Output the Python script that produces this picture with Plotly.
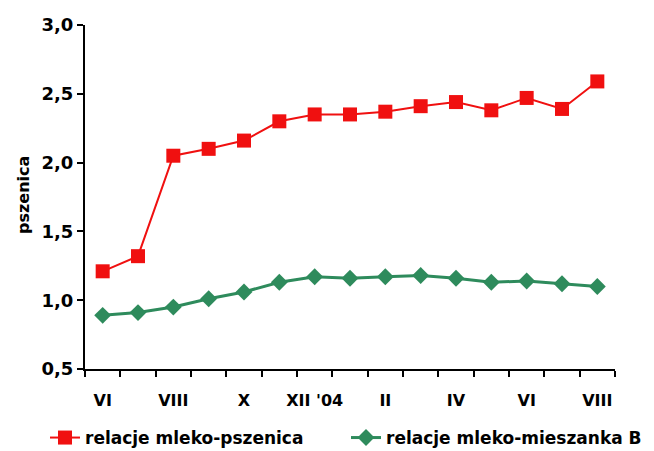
import plotly.graph_objects as go

months = ["VI", "VII", "VIII", "IX", "X", "XI", "XII '04", "I", "II", "III", "IV", "V", "VI", "VII", "VIII"]
pszenica = [1.21, 1.32, 2.05, 2.10, 2.16, 2.30, 2.35, 2.35, 2.37, 2.41, 2.44, 2.38, 2.47, 2.39, 2.59]
mieszanka = [0.89, 0.91, 0.95, 1.01, 1.06, 1.13, 1.17, 1.16, 1.17, 1.18, 1.16, 1.13, 1.14, 1.12, 1.10]
y_ticks = [0.5, 1.0, 1.5, 2.0, 2.5, 3.0]

idx = list(range(len(months)))
lab_idx = idx[::2]
lab_txt = [months[i] for i in lab_idx]

FONT = "DejaVu Sans, Arial, sans-serif"
RED = "#f01010"
GREEN = "#2e8b5c"

# page body has an 8px margin, so the figure is sized to fit inside the window
W, H = 646, 443
L, R, T, B = 77, 39, 17, 82
PW, PH = W - L - R, H - T - B

fig = go.Figure()
fig.add_trace(go.Scatter(
    x=idx, y=pszenica, mode="lines+markers", name="relacje mleko-pszenica",
    line=dict(color=RED, width=2),
    marker=dict(symbol="square", size=14, color=RED),
))
fig.add_trace(go.Scatter(
    x=idx, y=mieszanka, mode="lines+markers", name="relacje mleko-mieszanka B",
    line=dict(color=GREEN, width=3),
    marker=dict(symbol="diamond", size=13, color=GREEN),
))

fig.update_layout(
    width=W, height=H,
    margin=dict(l=L, r=R, t=T, b=B, autoexpand=False),
    paper_bgcolor="white", plot_bgcolor="white",
    separators=", ",
    font=dict(family=FONT, size=16, color="black", weight="bold"),
    showlegend=True,
    legend=dict(orientation="h",
                x=(37 - L) / PW, xanchor="left",
                y=(H - B - 430) / PH, yanchor="middle",
                font=dict(family=FONT, size=17, color="black", weight="bold"),
                entrywidth=256, entrywidthmode="pixels",
                tracegroupgap=0),
    annotations=[dict(text="pszenica", xref="paper", yref="paper",
                      x=(15 - L) / PW, y=(H - B - 187) / PH, xanchor="center", yanchor="middle",
                      textangle=-90, showarrow=False,
                      font=dict(family=FONT, size=16, color="black", weight="bold"))],
)
fig.update_xaxes(
    range=[-0.5, len(months) - 0.5], automargin=False,
    tickmode="array", tickvals=lab_idx, ticktext=lab_txt,
    ticks="", ticklabelstandoff=16,
    showline=True, linecolor="black", linewidth=2,
    showgrid=False, zeroline=False,
    tickfont=dict(family=FONT, size=16, color="black", weight="bold"),
    minor=dict(tickmode="array", tickvals=[i - 0.5 for i in range(len(months) + 1)],
               ticks="outside", ticklen=6, tickwidth=2, tickcolor="black", showgrid=False),
)
fig.update_yaxes(
    range=[0.5, 3.0], automargin=False,
    tickmode="array", tickvals=y_ticks, tickformat=".1f",
    ticks="outside", ticklen=6, tickwidth=2, tickcolor="black",
    showline=True, linecolor="black", linewidth=2,
    showgrid=False, zeroline=False,
    tickfont=dict(family=FONT, size=18, color="black", weight="bold"),
)

fig.write_html("out.html")
